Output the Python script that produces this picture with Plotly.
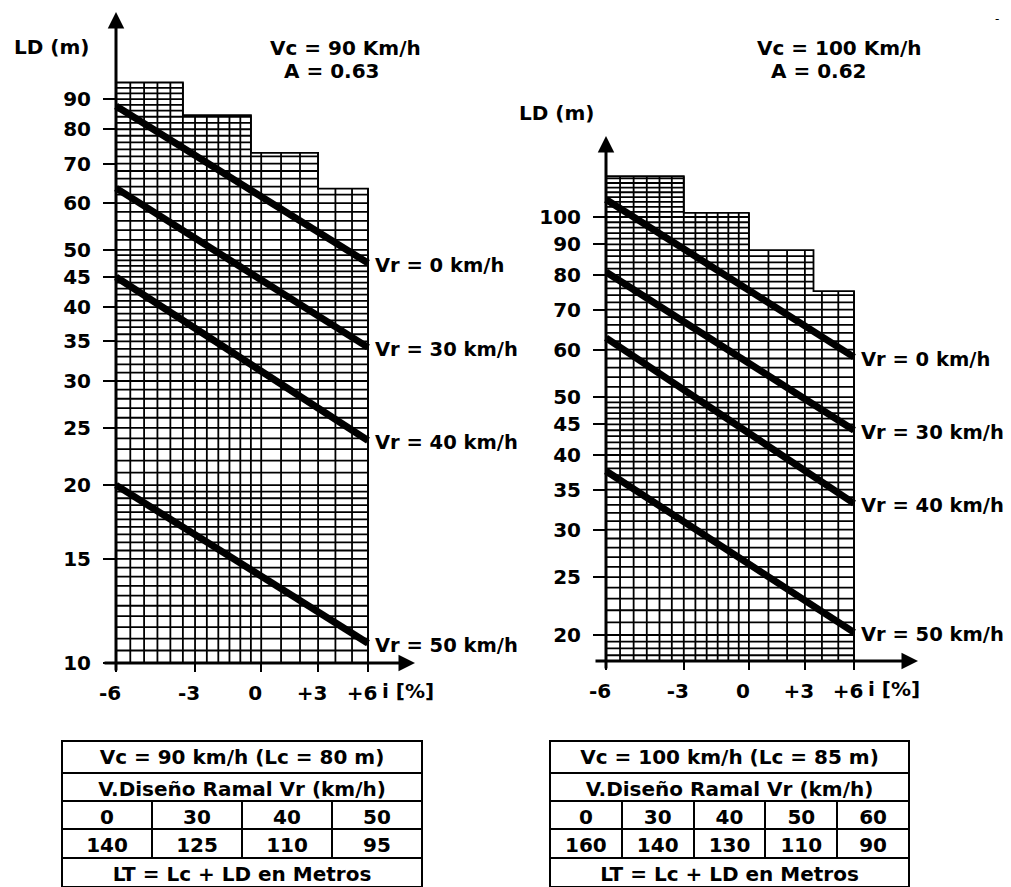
import numpy as np
import plotly.graph_objects as go

OFF = 20.0  # the grade axis i is drawn on a log scale of (i + 20), as in the source nomogram

# ---------------- data ----------------
grade_ticks = [-6, -3, 0, 3, 6]
grade_tick_text = ["-6", "-3", "0", "+3", "+6"]
vr_names = ["Vr = 0 km/h", "Vr = 30 km/h", "Vr = 40 km/h", "Vr = 50 km/h"]

# Vc = 90 km/h, A = 0.63  (LD at i = -6 % and i = +6 %)
ld90_at_m6 = [87.6, 63.6, 45.0, 20.0]
ld90_at_p6 = [47.5, 34.2, 23.8, 10.8]
paper90_edges = [-6, -3.5, -0.5, 3, 6]
paper90_tops = [96.0, 84.5, 73.0, 63.5]
ld90_floor = 10.0
ld90_ticks = [10, 15, 20, 25, 30, 35, 40, 45, 50, 60, 70, 80, 90]

# Vc = 100 km/h, A = 0.62
ld100_at_m6 = [107.0, 80.9, 62.8, 37.6]
ld100_at_p6 = [58.3, 44.0, 33.2, 20.2]
paper100_edges = [-6, -3, 0, 3.5, 6]
paper100_tops = [117.0, 101.6, 88.0, 75.2]
ld100_floor = 18.1
ld100_ticks = [20, 25, 30, 35, 40, 45, 50, 60, 70, 80, 90, 100]

# tables
t90_title = "Vc = 90 km/h (Lc = 80 m)"
t90_vr = ["0", "30", "40", "50"]
t90_lt = ["140", "125", "110", "95"]
t100_title = "Vc = 100 km/h (Lc = 85 m)"
t100_vr = ["0", "30", "40", "50", "60"]
t100_lt = ["160", "140", "130", "110", "90"]
t_sub = "V.Diseño Ramal Vr (km/h)"
t_foot = "LT = Lc + LD en Metros"

# ---------------- layout helpers ----------------
PAGE_MARGIN = 8          # default <body> margin of the page
W, H = 1011 - PAGE_MARGIN, 887 - PAGE_MARGIN
FONT = "DejaVu Sans"


def py(p):  # screen pixel row -> paper y
    return (H - (p - PAGE_MARGIN)) / H


def px(p):  # screen pixel column -> paper x
    return (p - PAGE_MARGIN) / W


def grid_segments(edges, tops, ybot):
    gx = list(np.arange(-6, 0, 0.5)) + list(range(0, 7))
    gy = list(np.arange(10, 20, 0.5)) + list(range(20, 50)) + list(range(50, 130, 2))
    xs, ys = [], []

    def top_at(i):
        t = None
        for k in range(len(tops)):
            if edges[k] - 1e-9 <= i <= edges[k + 1] + 1e-9:
                t = tops[k] if t is None else max(t, tops[k])
        return t

    for i in gx:
        xs += [i + OFF, i + OFF, None]
        ys += [ybot, top_at(i), None]
    for v in gy:
        if v <= ybot or v >= tops[0]:
            continue
        n = sum(1 for t in tops if t > v)
        xs += [edges[0] + OFF, edges[n] + OFF, None]
        ys += [v, v, None]
    for k in range(len(tops)):
        xs += [edges[k] + OFF, edges[k + 1] + OFF]
        ys += [tops[k], tops[k]]
        if k + 1 < len(tops):
            xs += [edges[k + 1] + OFF]
            ys += [tops[k + 1]]
    xs += [edges[-1] + OFF, None]
    ys += [ybot, None]
    return xs, ys


fig = go.Figure()

panels = [
    dict(xa="x", ya="y", start=ld90_at_m6, end=ld90_at_p6, edges=paper90_edges,
         tops=paper90_tops, floor=ld90_floor, ticks=ld90_ticks),
    dict(xa="x2", ya="y2", start=ld100_at_m6, end=ld100_at_p6, edges=paper100_edges,
         tops=paper100_tops, floor=ld100_floor, ticks=ld100_ticks),
]

lab_font = dict(family=FONT, size=20, color="black", weight="bold")
line_lab_font = dict(family=FONT, size=19.5, color="black", weight="bold")
for p in panels:
    gxs, gys = grid_segments(p["edges"], p["tops"], p["floor"])
    fig.add_trace(go.Scatter(x=gxs, y=gys, mode="lines", xaxis=p["xa"], yaxis=p["ya"],
                             line=dict(color="black", width=1.8), hoverinfo="skip"))
    for k, name in enumerate(vr_names):
        fig.add_trace(go.Scatter(x=[-6 + OFF, 6 + OFF], y=[p["start"][k], p["end"][k]],
                                 mode="lines", xaxis=p["xa"], yaxis=p["ya"], name=name,
                                 line=dict(color="black", width=7)))
        fig.add_annotation(x=np.log10(6 + OFF), y=np.log10(p["end"][k]), xref=p["xa"], yref=p["ya"],
                           text=name, showarrow=False, xanchor="left", yanchor="middle",
                           xshift=6, yshift=-2, borderpad=0, font=line_lab_font)

# axis calibration (screen pixels of the source picture)
cal = [
    dict(i_lo=116, i_hi=368, dom_x=(100, 425), ref_val=10, ref_px=663, ppd=591, dom_y=(10, 676), xline=663,
         arrow_top=12, arrow_bot=672, xarrow_l=103, xarrow_r=415),
    dict(i_lo=606, i_hi=854, dom_x=(588, 930), ref_val=20, ref_px=635, ppd=598, dom_y=(130, 676), xline=661,
         arrow_top=136, arrow_bot=670, xarrow_l=594, xarrow_r=918),
]

a0, a1 = np.log10(-6 + OFF), np.log10(6 + OFF)
axis_font = dict(family=FONT, size=20, color="black", weight="bold")
for n, (c, p) in enumerate(zip(cal, panels)):
    k = (c["i_hi"] - c["i_lo"]) / (a1 - a0)
    xr = [a0 - (c["i_lo"] - c["dom_x"][0]) / k, a1 + (c["dom_x"][1] - c["i_hi"]) / k]
    lr = np.log10(c["ref_val"])
    yr = [lr - (c["dom_y"][1] - c["ref_px"]) / c["ppd"], lr + (c["ref_px"] - c["dom_y"][0]) / c["ppd"]]
    sfx = "" if n == 0 else str(n + 1)
    fig.layout["xaxis" + sfx] = dict(
        type="log", range=xr, domain=[px(c["dom_x"][0]), px(c["dom_x"][1])],
        anchor="free", position=py(c["xline"]),
        tickvals=[g + OFF for g in grade_ticks], ticktext=grade_tick_text,
        ticks="outside", ticklen=8, tickwidth=2, tickcolor="black",
        ticklabelshift=-6, ticklabelstandoff=4,
        showgrid=False, zeroline=False, showline=False, tickfont=axis_font, fixedrange=True)
    fig.layout["yaxis" + sfx] = dict(
        type="log", range=yr, domain=[py(c["dom_y"][1]), py(c["dom_y"][0])],
        anchor="free", position=px(c["i_lo"]),
        tickvals=p["ticks"], ticktext=[str(t) for t in p["ticks"]],
        ticks="outside", ticklen=13, tickwidth=2, tickcolor="black", ticklabelstandoff=8,
        showgrid=False, zeroline=False, showline=False, tickfont=axis_font, fixedrange=True)
    # axis lines with arrow heads
    fig.add_annotation(x=px(c["i_lo"]), y=py(c["arrow_top"]), xref="paper", yref="paper",
                       ax=0, ay=c["arrow_bot"] - c["arrow_top"], axref="pixel", ayref="pixel",
                       text="", showarrow=True, arrowhead=2, arrowsize=1.1, arrowwidth=3,
                       arrowcolor="black")
    fig.add_annotation(x=px(c["xarrow_r"]), y=py(c["xline"]), xref="paper", yref="paper",
                       ax=-(c["xarrow_r"] - c["xarrow_l"]), ay=0, axref="pixel", ayref="pixel",
                       text="", showarrow=True, arrowhead=2, arrowsize=1.1, arrowwidth=3,
                       arrowcolor="black")
    fig.add_annotation(x=np.log10(6 + OFF), y=py(c["xline"]), xref=("x" + sfx), yref="paper",
                       text="i [%]", showarrow=False, xanchor="left", yanchor="top",
                       xshift=12, yshift=-14, font=axis_font)

# titles
for txt, x0, y0 in [("LD (m)", 12, 47), ("Vc = 90 Km/h", 268, 48), ("A = 0.63", 282, 71),
                    ("LD (m)", 517, 113), ("Vc = 100 Km/h", 755, 48), ("A = 0.62", 769, 71)]:
    fig.add_annotation(x=px(x0), y=py(y0), xref="paper", yref="paper", text=txt, showarrow=False,
                       xanchor="left", yanchor="middle", font=lab_font)
fig.add_annotation(x=px(1001), y=py(10), xref="paper", yref="paper", text="-", showarrow=False,
                   font=dict(family=FONT, size=12, color="black"))

# tables
cell_font = dict(family=FONT, size=20, color="black", weight="bold")
line = dict(color="black", width=2)
for title, vrs, lts, (xl, xr_) in [(t90_title, t90_vr, t90_lt, (62, 422)),
                                   (t100_title, t100_vr, t100_lt, (550, 909))]:
    dx = [px(xl), px(xr_)]
    fig.add_trace(go.Table(
        domain=dict(x=dx, y=[py(801), py(741)]),
        header=dict(values=[title], height=32, line=line, fill_color="white", font=cell_font, align="center"),
        cells=dict(values=[[t_sub]], height=28, line=line, fill_color="white", font=cell_font, align="center")))
    fig.add_trace(go.Table(
        domain=dict(x=dx, y=[py(858), py(801)]),
        header=dict(values=vrs, height=28, line=line, fill_color="white", font=cell_font, align="center"),
        cells=dict(values=[[v] for v in lts], height=29, line=line, fill_color="white", font=cell_font,
                   align="center")))
    fig.add_trace(go.Table(
        domain=dict(x=dx, y=[0, py(858)]),
        header=dict(values=[t_foot], height=29, line=line, fill_color="white", font=cell_font, align="center")))

fig.update_layout(width=W, height=H, autosize=False, margin=dict(l=0, r=0, t=0, b=0),
                  paper_bgcolor="white", plot_bgcolor="white", showlegend=False)

fig.write_html("out.html")
